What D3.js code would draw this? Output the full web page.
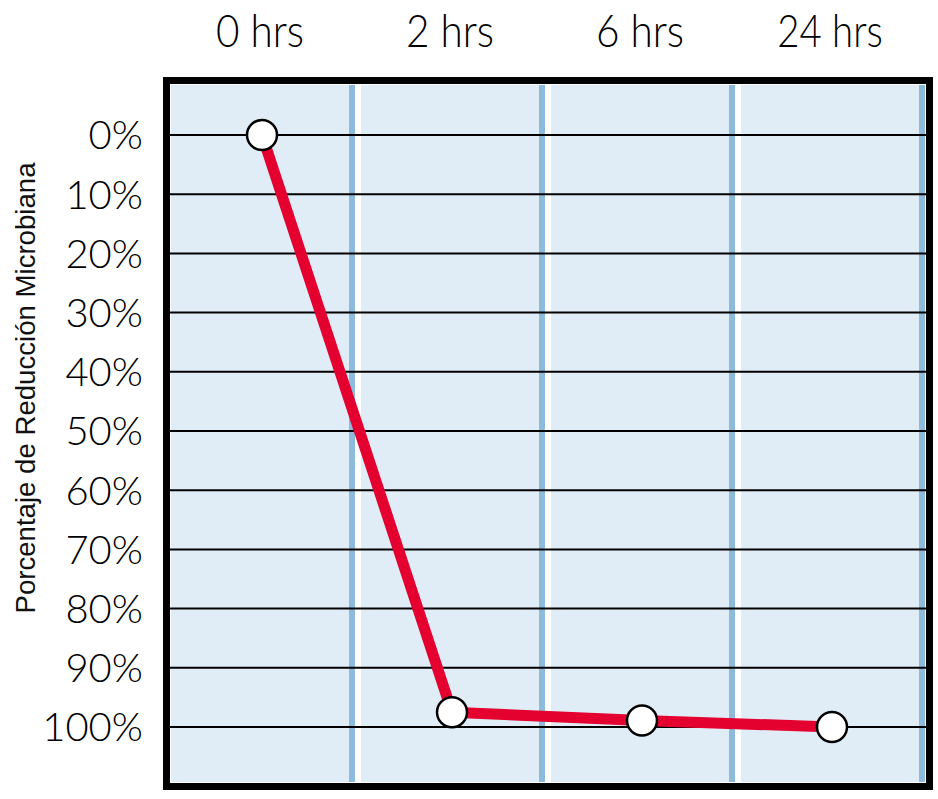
<!DOCTYPE html>
<html>
<head>
<meta charset="utf-8">
<script src="https://cdn.jsdelivr.net/npm/d3@7"></script>
<style>
  body { margin: 0; background: #fff; }
  svg { display: block; }
</style>
</head>
<body>
<svg width="938" height="799"></svg>
<script>
const timeLabels = ["0 hrs", "2 hrs", "6 hrs", "24 hrs"];
const reduction = [0, 97.5, 98.9, 100];
const yTicks = [0, 10, 20, 30, 40, 50, 60, 70, 80, 90, 100];

const svg = d3.select("svg");
const font = "'Liberation Sans', Arial, sans-serif";
const thinFont = "Lato, 'Liberation Sans', sans-serif";

// escalas
const x = d3.scaleBand()
    .domain(timeLabels)
    .range([171, 931])
    .padding(0);
const bw = x.bandwidth();

const y = d3.scaleLinear()
    .domain([0, 100])
    .range([135, 727]);

const plotTop = 85, plotBottom = 782;
const cx = d => x(d) + bw / 2 - 4;

// columnas de fondo
const cols = svg.append("g");
cols.selectAll("rect.fill")
  .data(timeLabels)
  .join("rect")
    .attr("class", "fill")
    .attr("x", d => x(d))
    .attr("y", plotTop)
    .attr("width", bw - 12)
    .attr("height", plotBottom - plotTop)
    .attr("fill", "#e0edf6");

cols.selectAll("rect.sep")
  .data(timeLabels)
  .join("rect")
    .attr("class", "sep")
    .attr("x", d => x(d) + bw - 12)
    .attr("y", plotTop)
    .attr("width", 6)
    .attr("height", plotBottom - plotTop)
    .attr("fill", "#8dbbdb");

// lineas horizontales
svg.append("g")
  .selectAll("line")
  .data(yTicks)
  .join("line")
    .attr("x1", 170)
    .attr("x2", 926)
    .attr("y1", d => y(d))
    .attr("y2", d => y(d))
    .attr("stroke", "#000")
    .attr("stroke-width", 2);

// marco
svg.append("rect")
    .attr("x", 166.5)
    .attr("y", 80.5)
    .attr("width", 763)
    .attr("height", 706)
    .attr("fill", "none")
    .attr("stroke", "#000")
    .attr("stroke-width", 7);

// etiquetas eje y
svg.append("g")
  .selectAll("text")
  .data(yTicks)
  .join("text")
    .attr("x", 143)
    .attr("y", d => y(d))
    .attr("dy", "0.36em")
    .attr("text-anchor", "end")
    .attr("font-family", thinFont)
    .attr("font-weight", 300)
    .attr("font-size", 40)
    .attr("fill", "#000")
    .text(d => d + "%");

// etiquetas de tiempo arriba
svg.append("g")
  .selectAll("text")
  .data(timeLabels)
  .join("text")
    .attr("x", d => cx(d) - 2)
    .attr("y", 47)
    .attr("text-anchor", "middle")
    .attr("font-family", thinFont)
    .attr("font-weight", 300)
    .attr("font-size", 45)
    .attr("fill", "#000")
    .text(d => d)
    .each(function() {
      const s = this.textContent.length;
      d3.select(this)
        .attr("textLength", s * 17.6)
        .attr("lengthAdjust", "spacingAndGlyphs");
    });

// titulo eje y
svg.append("text")
    .attr("transform", "translate(35,388) rotate(-90)")
    .attr("text-anchor", "middle")
    .attr("font-family", font)
    .attr("font-size", 27)
    .attr("textLength", 451)
    .attr("lengthAdjust", "spacingAndGlyphs")
    .attr("fill", "#111")
    .text("Porcentaje de Reducción Microbiana");

// linea de datos
const pts = timeLabels.map((t, i) => ({ t, v: reduction[i] }));
const line = d3.line()
    .x(d => cx(d.t))
    .y(d => y(d.v));

svg.append("path")
    .datum(pts)
    .attr("d", line)
    .attr("fill", "none")
    .attr("stroke", "#e4002f")
    .attr("stroke-width", 11)
    .attr("stroke-linejoin", "round");

svg.append("g")
  .selectAll("circle")
  .data(pts)
  .join("circle")
    .attr("cx", d => cx(d.t))
    .attr("cy", d => y(d.v))
    .attr("r", 15)
    .attr("fill", "#fff")
    .attr("stroke", "#000")
    .attr("stroke-width", 2.5);
</script>
</body>
</html>
